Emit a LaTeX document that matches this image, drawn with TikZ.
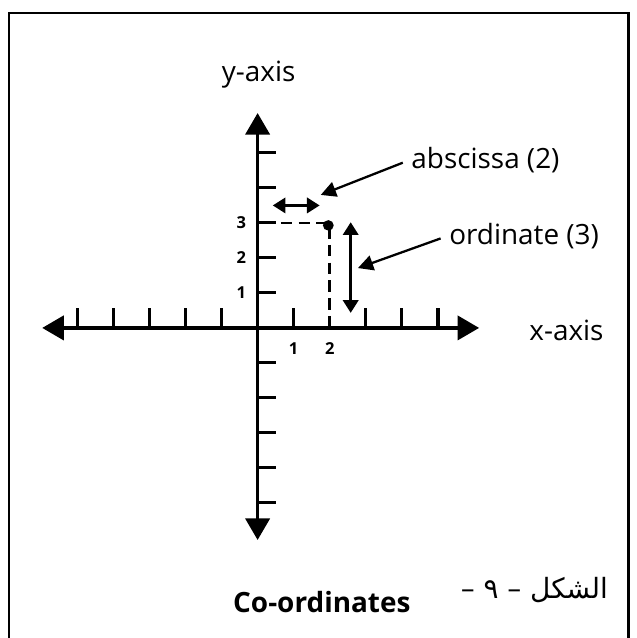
\documentclass[tikz,border=0pt]{standalone}
\usepackage{fontspec}
\setmainfont{Open Sans}
\newfontfamily\arabicfont[Script=Arabic]{DejaVu Sans}
\TeXXeTstate=1
\usetikzlibrary{arrows.meta, positioning}

\tikzset{
  axis/.style={line width=2.8pt, {Triangle[length=17pt, width=19pt]}-{Triangle[length=17pt, width=19pt]}},
  tickmark/.style={line width=2.4pt},
  dashline/.style={line width=2.2pt, dash pattern=on 9pt off 5pt},
  dbl/.style={line width=2.2pt, {Triangle[length=10pt, width=12pt]}-{Triangle[length=10pt, width=12pt]}},
  pointer/.style={line width=1.8pt, -{Triangle[length=12pt, width=12pt]}},
  lbl/.style={inner sep=1pt, font=\fontsize{22}{26}\selectfont},
  num/.style={inner sep=1pt, font=\fontsize{13}{15}\selectfont\bfseries},
}

\begin{document}
\begin{tikzpicture}[x=1cm, y=0.97cm]
  \useasboundingbox (-7.14,-8.86) rectangle (10.5,9.37);
  % frame
  \draw[line width=1.8pt] (-6.89,-9.5) -- (-6.89,9.0) -- (10.28,9.0) -- (10.28,-9.5);

  % axes
  \coordinate (xl) at (-5.97,0);
  \coordinate (xr) at (6.14,0);
  \coordinate (yt) at (0,6.14);
  \coordinate (yb) at (0,-6.06);
  \draw[axis] (xl) -- (xr);
  \draw[axis] (yb) -- (yt);
  \foreach \i in {-5,...,-1,1,3,4,5}
    \draw[tickmark] (\i,0) -- ++(0,0.57);
  \foreach \j in {-5,...,-1,1,2,...,5}
    \draw[tickmark] (0,\j) -- ++(0.5,0);

  % numbers
  \node[num] (y1) at (-0.45,1) {1};
  \node[num] (y2) at (-0.45,2) {2};
  \node[num] (y3) at (-0.45,3) {3};
  \node[num] (x1) at (1,-0.6) {1};
  \node[num] (x2) at (2,-0.6) {2};

  % point (2,3)
  \coordinate (P) at (2,3);
  \coordinate (Py) at (0.15,3);
  \coordinate (Px) at (2,0);
  \draw[dashline] (Py) -- (P) -- (Px);
  \fill (1.96,2.93) circle (0.15);

  % abscissa and ordinate
  \coordinate (ha) at (0.42,3.5);
  \coordinate (hb) at (1.72,3.5);
  \draw[dbl] (ha) -- (hb);
  \coordinate (va) at (2.58,3.02);
  \coordinate (vb) at (2.58,0.43);
  \draw[dbl] (va) -- (vb);

  % labels
  \node[lbl, anchor=west] (absc) at (4.22,4.8) {abscissa (2)};
  \node[lbl, anchor=west] (ordi) at (5.27,2.63) {ordinate (3)};
  \coordinate (abstip) at (1.75,3.8);
  \coordinate (orditip) at (2.78,1.71);
  \draw[pointer, shorten <=6pt] (absc.west) -- (abstip);
  \draw[pointer, shorten <=6pt] (ordi.west) -- (orditip);
  \node[lbl] (ylab) at (0.03,7.23) {y-axis};
  \node[lbl] (xlab) at (8.56,-0.06) {x-axis};

  % caption
  \node[lbl, font=\fontsize{22}{26}\selectfont\bfseries] (title) at (1.78,-7.83) {Co-ordinates};
  \node[lbl, font=\fontsize{22}{26}\selectfont] (arab) at (7.67,-7.5) {\arabicfont\beginR الشكل – ٩ –\endR};
\end{tikzpicture}
\end{document}
